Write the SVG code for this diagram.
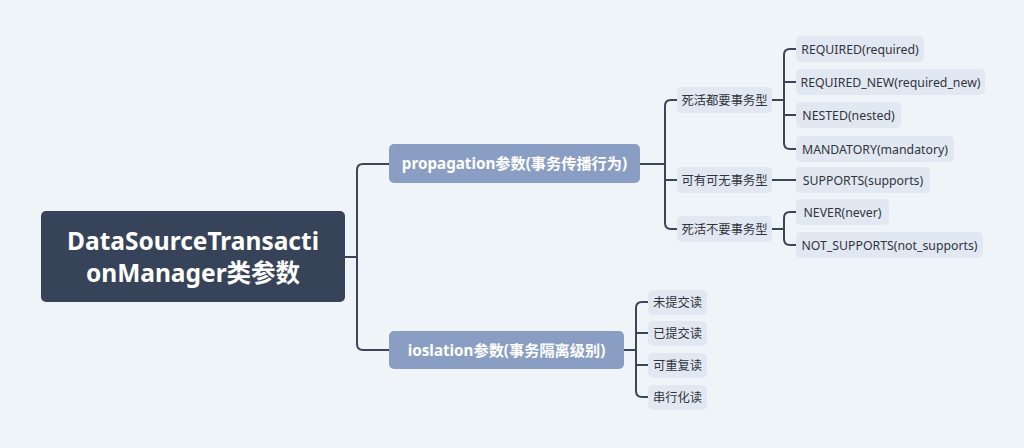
<svg xmlns="http://www.w3.org/2000/svg" width="1024" height="448" viewBox="0 0 1024 448">
<style>
.bg{fill:#eef4f8}
.root rect{fill:#374359}
.root text{fill:#ffffff;font-family:"Noto Sans","Noto Sans CJK SC",sans-serif;font-size:24.5px;font-weight:bold;text-anchor:middle}
.main rect{fill:#8a9ec4}
.main text{fill:#ffffff;font-family:"Noto Sans","Noto Sans CJK SC",sans-serif;font-size:15.2px;font-weight:bold;text-anchor:middle}
.sub rect{fill:#e2e8f1}
.sub text{fill:#30353d;font-family:"Noto Sans","Noto Sans CJK SC",sans-serif;font-size:12.3px;text-anchor:middle}
.conn path{fill:none;stroke:#3a4558;stroke-width:2;stroke-linecap:round}
</style>
<rect class="bg" width="1024" height="448"/>
<g id="connectors" class="conn">
<path d="M345 257 H357"/>
<path d="M389 164 H363 Q357 164 357 170 V344 Q357 350 363 350 H389"/>
<path d="M640 164 H665"/>
<path d="M677 100 H671 Q665 100 665 106 V223 Q665 229 671 229 H677"/>
<path d="M665 180 H677"/>
<path d="M772 100 H784"/>
<path d="M796 49 H790 Q784 49 784 55 V143 Q784 149 790 149 H796"/>
<path d="M784 82 H796"/>
<path d="M784 115 H796"/>
<path d="M772 180 H796"/>
<path d="M772 229 H784"/>
<path d="M796 212 H790 Q784 212 784 218 V239 Q784 245 790 245 H796"/>
<path d="M624 350 H636"/>
<path d="M648 302 H642 Q636 302 636 308 V391 Q636 397 642 397 H648"/>
<path d="M636 333 H648"/>
<path d="M636 365 H648"/>
</g>
<g id="root" class="root">
<rect x="41" y="211" width="304" height="91" rx="5"/>
<text x="193" y="250">DataSourceTransacti</text>
<text x="193" y="282">onManager类参数</text>
</g>
<g id="propagation" class="main">
<rect x="389" y="144" width="251" height="39" rx="5"/>
<text x="514.5" y="169">propagation参数(事务传播行为)</text>
</g>
<g id="ioslation" class="main">
<rect x="389" y="331" width="235" height="38" rx="5"/>
<text x="506.5" y="355.5">ioslation参数(事务隔离级别)</text>
</g>
<g id="must" class="sub">
<rect x="677" y="87" width="95" height="26" rx="5"/>
<text x="724.5" y="104.5">死活都要事务型</text>
</g>
<g id="optional" class="sub">
<rect x="677" y="167" width="95" height="26" rx="5"/>
<text x="724.5" y="184.5">可有可无事务型</text>
</g>
<g id="never" class="sub">
<rect x="677" y="216" width="95" height="26" rx="5"/>
<text x="724.5" y="233.5">死活不要事务型</text>
</g>
<g id="required" class="sub">
<rect x="796" y="36" width="128" height="26" rx="5"/>
<text x="860" y="53.5">REQUIRED(required)</text>
</g>
<g id="required_new" class="sub">
<rect x="796" y="69" width="189" height="26" rx="5"/>
<text x="890.5" y="86.5">REQUIRED_NEW(required_new)</text>
</g>
<g id="nested" class="sub">
<rect x="796" y="102" width="105" height="26" rx="5"/>
<text x="848.5" y="119.5">NESTED(nested)</text>
</g>
<g id="mandatory" class="sub">
<rect x="796" y="136" width="158" height="26" rx="5"/>
<text x="875" y="153.5">MANDATORY(mandatory)</text>
</g>
<g id="supports" class="sub">
<rect x="796" y="167" width="134" height="26" rx="5"/>
<text x="863" y="184.5">SUPPORTS(supports)</text>
</g>
<g id="never_opt" class="sub">
<rect x="796" y="199" width="93" height="26" rx="5"/>
<text x="842.5" y="216.5">NEVER(never)</text>
</g>
<g id="not_supports" class="sub">
<rect x="796" y="232" width="187" height="26" rx="5"/>
<text x="889.5" y="249.5">NOT_SUPPORTS(not_supports)</text>
</g>
<g id="read_uncommitted" class="sub">
<rect x="648" y="290" width="59" height="25" rx="5"/>
<text x="677.5" y="307">未提交读</text>
</g>
<g id="read_committed" class="sub">
<rect x="648" y="321" width="59" height="25" rx="5"/>
<text x="677.5" y="338">已提交读</text>
</g>
<g id="repeatable_read" class="sub">
<rect x="648" y="353" width="59" height="25" rx="5"/>
<text x="677.5" y="370">可重复读</text>
</g>
<g id="serializable" class="sub">
<rect x="648" y="385" width="59" height="25" rx="5"/>
<text x="677.5" y="402">串行化读</text>
</g>
</svg>
